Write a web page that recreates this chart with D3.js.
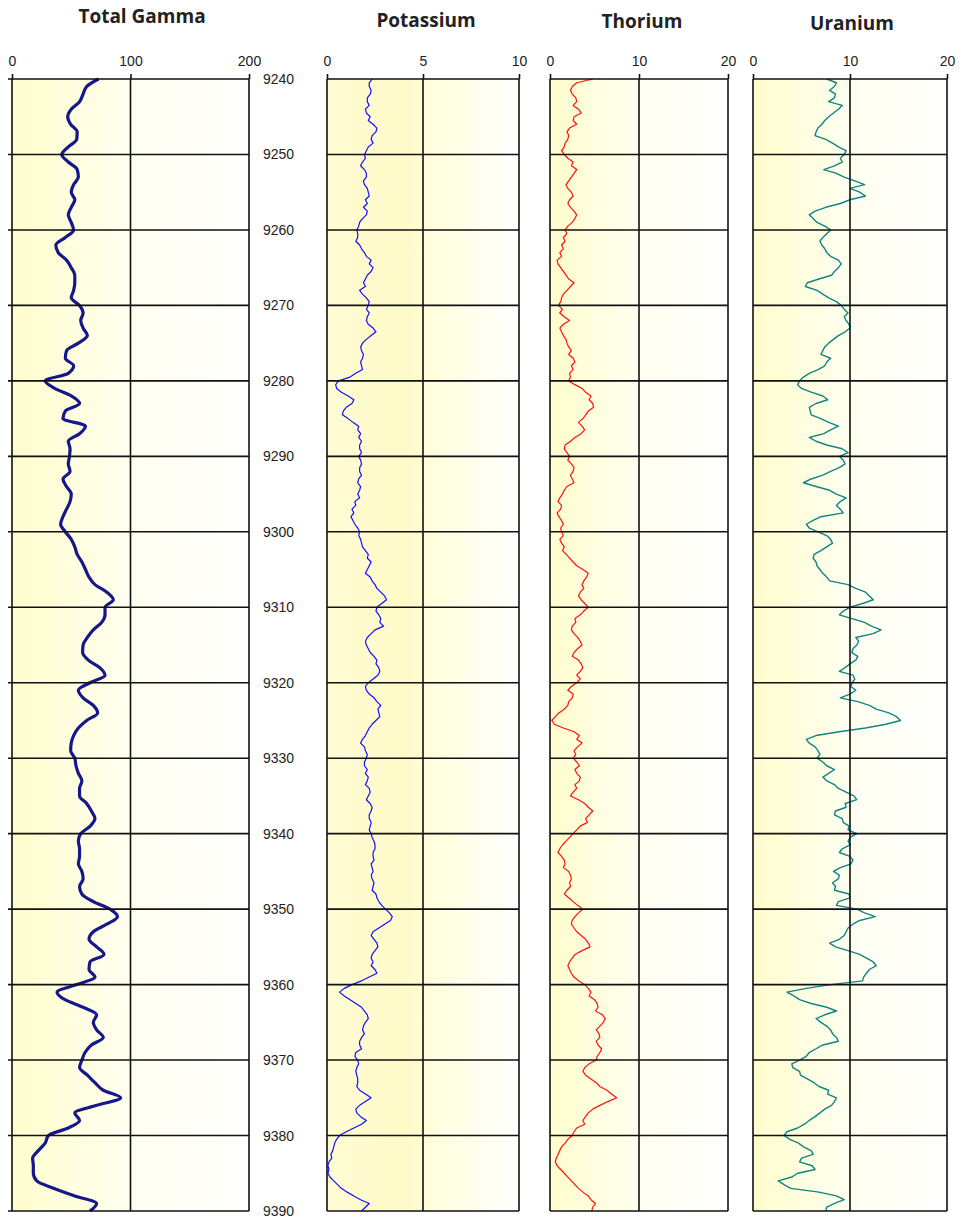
<!DOCTYPE html>
<html>
<head>
<meta charset="utf-8">
<script src="https://cdn.jsdelivr.net/npm/d3@7"></script>
<style>
  body { margin: 0; background: #fff; }
  .tick text { font-family: "Liberation Sans", Arial, sans-serif; font-size: 14px; fill: #222; }
  .title { font-family: "Open Sans", sans-serif; font-weight: bold; font-size: 19px; fill: #222; }
</style>
</head>
<body>
<div id="chart"></div>
<script>
// gamma is sampled every foot, the spectral curves every half foot
var depths = d3.range(9240, 9391);
var halfDepths = d3.range(0, 301).map(i => 9240 + i * 0.5);

var gammaValues = [
  73, 63, 60, 57, 50, 47, 49.5, 55, 54.6, 47.5,
  42, 47.5, 55, 56, 52, 50, 53, 50, 47.5, 50,
  52, 45, 37, 39, 46, 50, 53, 53, 52, 50,
  57, 60, 58, 60, 63.6, 56, 46, 45, 52, 47.5,
  28, 36, 50, 57, 45, 43, 62, 57, 47.5, 49,
  48.5, 47.5, 49, 43, 46, 50, 49, 46, 43, 41,
  45, 50, 53, 55, 59, 62, 65, 70, 80, 85.5,
  78.5, 78.5, 75.7, 68.6, 63.6, 60, 59.6, 64.4, 74, 78.5,
  65.8, 56, 60, 68.6, 72.3, 63, 56, 52, 50, 49.5,
  53, 54, 56, 59, 57, 57, 63, 67, 70, 66,
  58, 56, 57, 57, 56, 59, 60, 57, 59, 68.6,
  82.7, 89, 80, 68.6, 65, 71.4, 77.6, 65.8, 65, 70,
  54.6, 38, 44.7, 60, 71.4, 68.6, 71.4, 77, 67, 61.6,
  59, 57, 63.6, 70, 77, 91.7, 71.4, 53, 57, 47.5,
  30.7, 28, 22.2, 17.4, 18, 18, 20.8, 35, 53, 71.4,
  65.8
];

var potassiumValues = [
  2.35, 2.2, 2.2, 2.3, 2.25, 2.1, 2.1, 2.2, 2.0, 2.05,
  2.25, 2.15, 2.4, 2.6, 2.55, 2.35, 2.3, 2.4, 2.15, 2.05,
  1.95, 2.0, 1.85, 1.75, 1.95, 2.05, 2.05, 1.9, 1.95, 2.1,
  2.15, 2.2, 2.0, 2.1, 1.9, 2.1, 2.05, 1.85, 1.7, 1.65,
  1.55, 1.6, 1.6, 1.5, 1.7, 1.8, 1.95, 2.05, 2.3, 2.2,
  2.4, 2.3, 2.1, 2.0, 1.9, 2.0, 1.7, 1.85, 2.05, 2.2,
  2.15, 2.05, 2.2, 2.1, 2.05, 2.15, 2.4, 2.55, 2.3, 2.05,
  1.85, 1.75, 1.8, 1.9, 1.85, 1.75, 1.8, 1.85, 1.5, 1.2,
  0.6, 0.45, 0.5, 0.75, 1.1, 1.4, 1.3, 1.0, 0.85, 0.8,
  1.1, 1.35, 1.65, 1.6, 1.75, 1.65, 1.8, 1.7, 1.7, 1.8,
  1.65, 1.75, 1.8, 1.7, 1.7, 1.8, 1.65, 1.6, 1.75, 1.7,
  1.6, 1.7, 1.45, 1.5, 1.3, 1.4, 1.25, 1.35, 1.45, 1.6,
  1.7, 1.65, 1.75, 1.8, 1.85, 2.0, 2.15, 2.1, 2.3, 2.2,
  2.1, 2.0, 2.25, 2.35, 2.5, 2.6, 2.8, 3.0, 3.1, 2.85,
  2.6, 2.55, 2.7, 2.8, 2.75, 2.95, 2.5, 2.3, 2.1, 2.0,
  2.05, 2.15, 2.25, 2.45, 2.6, 2.55, 2.7, 2.75, 2.65, 2.4,
  2.15, 2.0, 2.05, 2.2, 2.45, 2.6, 2.8, 2.65, 2.7, 2.75,
  2.55, 2.35, 2.2, 2.1, 2.0, 1.85, 1.75, 1.95, 2.0, 2.1,
  2.05, 1.95, 1.95, 2.1, 2.0, 2.15, 2.1, 2.0, 2.2, 2.25,
  2.15, 2.05, 2.25, 2.35, 2.3, 2.2, 2.2, 2.3, 2.25, 2.2,
  2.3, 2.35, 2.45, 2.5, 2.5, 2.4, 2.4, 2.45, 2.3, 2.35,
  2.4, 2.3, 2.35, 2.45, 2.4, 2.35, 2.55, 2.6, 2.7, 2.85,
  3.05, 3.25, 3.4, 3.3, 3.0, 2.7, 2.4, 2.3, 2.45, 2.6,
  2.65, 2.5, 2.35, 2.3, 2.4, 2.3, 2.5, 2.6, 2.2, 1.8,
  1.3, 0.9, 0.65, 0.9, 1.2, 1.5, 1.8, 1.95, 2.1, 2.15,
  2.0, 1.9, 1.85, 1.95, 1.8, 1.7, 1.7, 1.8, 1.5, 1.45,
  1.6, 1.65, 1.55, 1.5, 1.55, 1.6, 1.6, 1.55, 1.7, 2.0,
  2.3, 2.0, 1.7, 1.5, 1.55, 1.75, 2.05, 1.8, 1.4, 1.0,
  0.65, 0.5, 0.4, 0.35, 0.3, 0.2, 0.25, 0.1, 0.05, 0.1,
  0.05, 0.15, 0.35, 0.55, 0.75, 1.05, 1.4, 1.75, 2.2, 2.0,
  1.8
];

var thoriumValues = [
  4.8, 3.0, 2.5, 2.3, 2.5, 2.9, 3.0, 2.6, 3.2, 3.5,
  2.7, 2.6, 3.0, 2.2, 1.9, 2.1, 2.0, 1.7, 1.6, 1.3,
  1.6, 2.0, 2.6, 2.4, 3.0, 2.7, 2.4, 2.1, 1.8, 2.0,
  2.4, 2.6, 2.2, 2.0, 2.3, 2.7, 3.0, 2.8, 2.5, 2.0,
  1.7, 1.9, 1.5, 1.7, 1.3, 1.5, 1.1, 1.3, 0.8, 0.9,
  1.2, 1.5, 1.8, 2.1, 2.7, 2.3, 1.9, 1.5, 1.3, 1.2,
  0.95, 1.4, 1.1, 1.6, 2.2, 1.5, 1.1, 1.3, 1.5, 1.8,
  1.9, 2.1, 2.4, 2.1, 2.6, 2.8, 2.4, 2.6, 2.2, 2.3,
  2.1, 2.8, 3.6, 4.0, 4.6, 4.4, 4.8, 4.9, 4.3, 4.0,
  3.7, 3.2, 3.6, 3.9, 3.5, 2.8, 2.3, 1.7, 1.6, 1.9,
  2.2, 2.0, 2.4, 2.7, 2.6, 2.3, 2.5, 2.7, 1.9, 1.6,
  1.4, 1.1, 0.9, 1.3, 1.2, 0.8, 1.0, 1.3, 1.5, 1.2,
  1.3, 1.5, 1.1, 1.3, 1.6, 1.4, 1.85, 2.2, 2.6, 3.0,
  3.7, 4.3, 4.1, 3.8, 3.6, 3.8, 3.4, 3.2, 3.5, 3.9,
  4.3, 3.8, 3.4, 2.8, 2.9, 2.5, 2.4, 2.7, 3.1, 3.4,
  3.6, 3.1, 2.7, 2.5, 3.2, 3.5, 3.7, 3.4, 3.0, 3.4,
  3.0, 2.4, 2.0, 2.6, 2.5, 2.1, 2.0, 1.6, 1.0, 0.6,
  0.2, 0.5, 1.5, 2.7, 3.3, 3.0, 3.6, 3.1, 2.7, 2.9,
  2.6, 3.0, 3.3, 2.8, 3.0, 3.4, 3.3, 2.8, 3.0, 2.6,
  2.3, 3.2, 3.9, 4.3, 4.8, 4.4, 4.0, 4.2, 3.4, 3.0,
  2.6, 2.2, 1.8, 1.4, 1.1, 0.9, 1.3, 1.6, 1.7, 1.5,
  2.1, 2.3, 2.4, 2.2, 2.3, 1.9, 1.6, 2.1, 2.6, 3.1,
  3.7, 3.2, 2.8, 2.5, 2.4, 2.7, 3.0, 3.5, 4.0, 4.3,
  4.5, 3.6, 2.8, 2.5, 2.2, 2.0, 2.2, 2.4, 2.7, 3.2,
  3.9, 4.3, 4.6, 4.4, 5.0, 5.3, 5.4, 5.1, 5.9, 6.2,
  6.0, 5.6, 5.2, 5.5, 5.6, 5.2, 5.4, 5.8, 5.6, 5.3,
  5.2, 4.4, 3.9, 3.7, 4.0, 4.6, 5.2, 5.6, 6.4, 6.9,
  7.5, 6.5, 5.6, 4.8, 4.3, 4.0, 3.7, 3.9, 3.0, 2.7,
  2.5, 2.0, 1.7, 1.3, 1.1, 0.9, 0.7, 0.6, 0.8, 1.2,
  1.6, 2.0, 2.4, 2.8, 3.2, 3.7, 4.3, 4.6, 5.1, 4.8,
  4.7
];

var uraniumValues = [
  7.6, 8.6, 8.4, 7.9, 8.5, 8.4, 7.8, 9.2, 8.8, 8.3,
  7.8, 7.4, 7.1, 6.7, 6.5, 6.4, 7.5, 8.2, 8.8, 9.6,
  9.4, 9.0, 9.2, 8.4, 7.3, 8.6, 9.4, 10.5, 11.5, 10.0,
  11.0, 11.6, 10.0, 9.0, 7.5, 6.4, 5.8, 6.2, 6.6, 7.4,
  8.0, 7.6, 7.2, 6.9, 7.1, 7.4, 7.6, 8.0, 8.8, 9.1,
  8.8, 8.4, 8.1, 6.8, 5.6, 5.4, 6.6, 7.2, 7.8, 8.6,
  9.1, 9.4, 9.8, 9.4, 9.6, 9.9, 10.0, 9.5, 8.8, 8.3,
  7.8, 7.4, 7.2, 7.0, 8.0, 7.6, 7.4, 6.7, 5.8, 5.2,
  4.8, 4.6, 5.0, 6.0, 7.2, 7.7, 6.5, 5.8, 5.9, 6.0,
  7.0, 7.8, 8.8, 8.0, 7.3, 5.8, 6.5, 7.6, 9.2, 9.8,
  8.9, 9.3, 9.5, 8.9, 8.0, 7.2, 6.0, 5.2, 6.5, 7.9,
  8.6, 9.6, 9.0, 8.6, 9.0, 9.3, 7.0, 6.2, 5.5, 5.8,
  6.7, 7.6, 8.0, 8.2, 7.6, 7.0, 6.3, 6.2, 6.5, 6.6,
  6.9, 7.2, 7.6, 7.9, 9.8, 10.6, 11.6, 12.0, 12.4, 11.3,
  10.0, 9.3, 8.9, 10.2, 11.5, 12.2, 13.2, 12.4, 10.6, 10.9,
  10.7, 10.3, 10.2, 10.8, 10.6, 10.0, 9.5, 8.9, 10.3, 10.5,
  10.2, 10.1, 10.6, 10.0, 9.0, 10.8, 12.0, 12.7, 14.0, 14.8,
  15.2, 13.7, 11.6, 8.9, 6.5, 5.5, 5.8, 6.4, 6.7, 6.9,
  6.6, 7.2, 7.6, 8.4, 7.8, 7.2, 7.6, 8.4, 8.8, 9.6,
  10.4, 10.7, 9.5, 9.6, 8.5, 8.4, 9.2, 9.3, 9.9, 9.8,
  10.7, 10.0, 9.8, 10.0, 9.2, 8.9, 10.0, 10.3, 10.1, 9.0,
  8.3, 8.9, 8.8, 8.2, 8.5, 8.4, 9.9, 10.0, 8.8, 8.6,
  10.7, 11.5, 12.6, 11.0, 10.3, 9.8, 9.6, 9.4, 8.9, 7.9,
  8.5, 9.8, 11.0, 11.7, 12.4, 12.7, 12.0, 11.7, 11.4, 11.3,
  8.0, 5.5, 3.5, 4.2, 4.8, 6.0, 7.6, 8.6, 7.4, 6.5,
  7.0, 7.6, 8.0, 8.2, 8.6, 8.8, 7.2, 6.5, 5.8, 5.5,
  4.8, 4.0, 4.1, 4.8, 4.9, 5.6, 6.3, 6.8, 7.8, 7.7,
  8.6, 8.4, 8.1, 7.4, 6.9, 6.4, 5.8, 5.3, 4.6, 3.5,
  3.2, 3.8, 4.7, 5.2, 6.0, 6.2, 5.0, 4.8, 6.1, 6.4,
  4.6, 4.0, 2.6, 3.2, 3.9, 6.8, 8.6, 9.4, 8.4, 7.6,
  7.5
];

var trackTitles = ["Total Gamma", "Potassium", "Thorium", "Uranium"];
var trackMax = [200, 10, 20, 20];
var trackTicks = [[0, 100, 200], [0, 5, 10], [0, 10, 20], [0, 10, 20]];
var depthTicks = [9240, 9250, 9260, 9270, 9280, 9290, 9300, 9310,
  9320, 9330, 9340, 9350, 9360, 9370, 9380, 9390];

var series = [gammaValues, potassiumValues, thoriumValues, uraniumValues];
var seriesDepths = [depths, halfDepths, halfDepths, halfDepths];

var svgWidth = 962;
var svgHeight = 1224;
var plotTop = 79;
var plotBottom = 1211;
var plotHeight = plotBottom - plotTop;

// layout of the four tracks
var layout = [
  { left: 12, right: 249, titleX: 142, titleY: 23, color: "#17178c", lineWidth: 3.2,
    stops: [[0, "#fffdcc"], [0.5, "#fffff0"], [1, "#ffffff"]] },
  { left: 327, right: 519, titleX: 426, titleY: 27, color: "#1010ff", lineWidth: 1.2,
    stops: [[0, "#fffcd4"], [0.4, "#fffac8"], [0.55, "#fffedc"], [1, "#ffffff"]] },
  { left: 550, right: 728, titleX: 642, titleY: 28, color: "#ff1010", lineWidth: 1.2,
    stops: [[0, "#fffdcc"], [0.5, "#fffff0"], [1, "#ffffff"]] },
  { left: 753, right: 947, titleX: 852, titleY: 30, color: "#128484", lineWidth: 1.4,
    stops: [[0, "#fffdcc"], [0.5, "#fffff0"], [1, "#ffffff"]] }
];

var svg = d3.select("#chart")
  .append("svg")
  .attr("width", svgWidth)
  .attr("height", svgHeight);

var defs = svg.append("defs");

var y = d3.scaleLinear()
  .domain([depthTicks[0], depthTicks[depthTicks.length - 1]])
  .range([0, plotHeight]);

layout.forEach(function (t, i) {
  var w = t.right - t.left;

  var grad = defs.append("linearGradient")
    .attr("id", "bg" + i)
    .attr("x1", "0%").attr("x2", "100%")
    .attr("y1", "0%").attr("y2", "0%");
  t.stops.forEach(function (s) {
    grad.append("stop").attr("offset", s[0]).attr("stop-color", s[1]);
  });

  var x = d3.scaleLinear()
    .domain([0, trackMax[i]])
    .range([0, w]);

  var g = svg.append("g")
    .attr("transform", "translate(" + t.left + "," + plotTop + ")");

  g.append("rect")
    .attr("width", w)
    .attr("height", plotHeight)
    .attr("fill", "url(#bg" + i + ")");

  // curve
  var dep = seriesDepths[i];
  var line = d3.line()
    .x(d => x(d))
    .y((d, j) => y(dep[j]));
  if (i === 0) line.curve(d3.curveMonotoneY);

  g.append("path")
    .datum(series[i])
    .attr("fill", "none")
    .attr("stroke", t.color)
    .attr("stroke-width", t.lineWidth)
    .attr("stroke-linejoin", "round")
    .attr("d", line);

  // horizontal grid lines (first track gets short ticks to the left)
  g.selectAll(".hgrid")
    .data(depthTicks)
    .enter()
    .append("line")
    .attr("x1", i === 0 ? -4 : 0)
    .attr("x2", w)
    .attr("y1", d => y(d))
    .attr("y2", d => y(d))
    .attr("stroke", "#111")
    .attr("stroke-width", 1.6);

  // vertical grid lines
  g.selectAll(".vgrid")
    .data(trackTicks[i])
    .enter()
    .append("line")
    .attr("x1", d => x(d))
    .attr("x2", d => x(d))
    .attr("y1", 0)
    .attr("y2", plotHeight)
    .attr("stroke", "#111")
    .attr("stroke-width", 1.6);

  // top scale
  var topAxis = g.append("g")
    .call(d3.axisTop(x)
      .tickValues(trackTicks[i])
      .tickSize(5)
      .tickSizeOuter(0)
      .tickPadding(8));
  topAxis.select(".domain").remove();
  topAxis.selectAll(".tick line").attr("stroke", "#111").attr("stroke-width", 1.6);

  // depth labels sit to the right of the first track
  if (i === 0) {
    var depthAxis = g.append("g")
      .attr("transform", "translate(" + w + ",0)")
      .call(d3.axisRight(y)
        .tickValues(depthTicks)
        .tickSize(0)
        .tickPadding(14)
        .tickFormat(d3.format("d")));
    depthAxis.select(".domain").remove();
  }

  svg.append("text")
    .attr("class", "title")
    .attr("x", t.titleX)
    .attr("y", t.titleY)
    .attr("text-anchor", "middle")
    .text(trackTitles[i]);
});
</script>
</body>
</html>
